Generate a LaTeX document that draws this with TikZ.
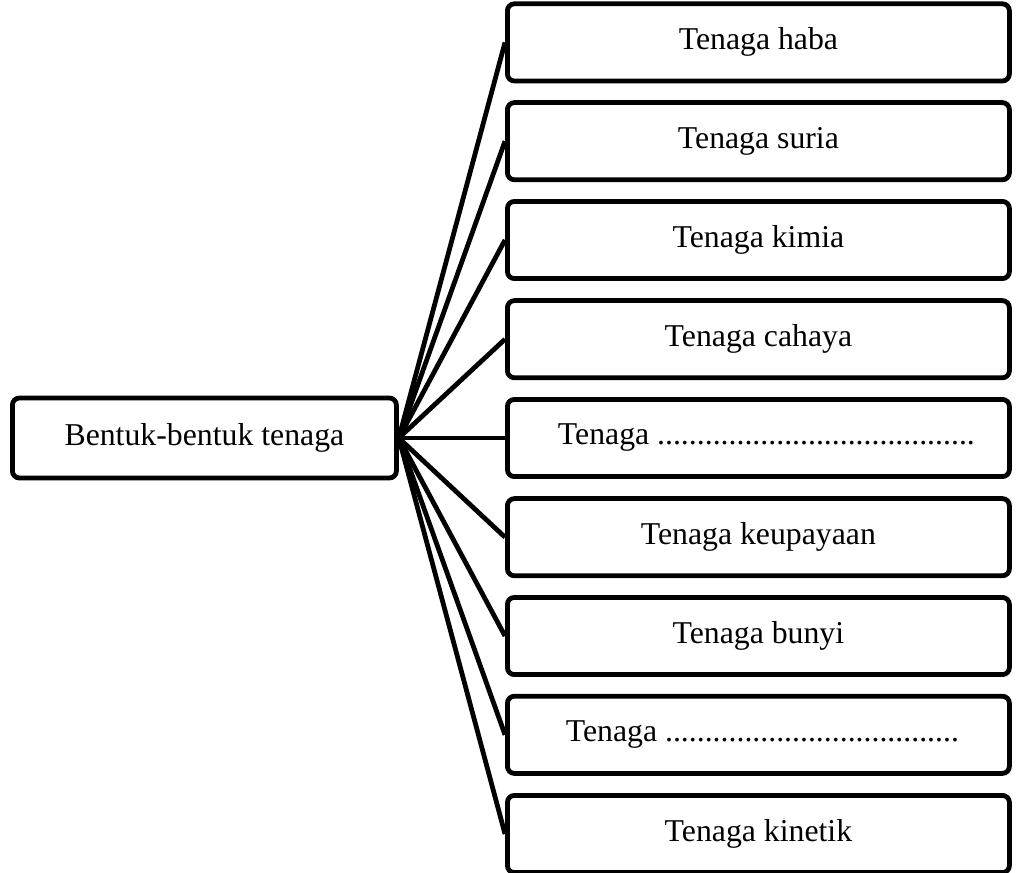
\documentclass[tikz,border=0pt]{standalone}
\usepackage{fontspec}
\setmainfont{Liberation Serif}
\usepackage{tikz}
\usetikzlibrary{positioning}

\tikzset{
  kotak/.style={draw=black, line width=3.4pt, rounded corners=5pt, fill=white,
    font=\fontsize{22.6}{27}\selectfont, minimum height=1.93cm, minimum width=12.55cm, inner sep=0pt},
  garis/.style={draw=black, line width=3.4pt}
}

\begin{document}
\begin{tikzpicture}
  \useasboundingbox (0,0) rectangle (25.775,-21.825);

  % Pusat
  \node[kotak, minimum width=9.6cm, minimum height=2cm] (bentuk) at (5.11,-10.95) {Bentuk-bentuk tenaga};

  % Jenis tenaga
  \node[kotak] (haba) at (18.96,-1.06) {Tenaga haba};
  \node[kotak] (suria) at (18.96,-3.53) {Tenaga suria};
  \node[kotak] (kimia) at (18.96,-6.00) {Tenaga kimia};
  \node[kotak] (cahaya) at (18.96,-8.48) {Tenaga cahaya};
  \node[kotak] (kosong1) at (18.96,-10.95) {\hspace{0.4cm}Tenaga ........................................};
  \node[kotak] (upaya) at (18.96,-13.43) {Tenaga keupayaan};
  \node[kotak] (bunyi) at (18.96,-15.90) {Tenaga bunyi};
  \node[kotak] (kosong2) at (18.96,-18.37) {\hspace{0.2cm}Tenaga .....................................};
  \node[kotak] (kinetik) at (18.96,-20.85) {Tenaga kinetik};

  % Garis penghubung
  \draw[garis] (bentuk.east) -- (haba.west);
  \draw[garis] (bentuk.east) -- (suria.west);
  \draw[garis] (bentuk.east) -- (kimia.west);
  \draw[garis] (bentuk.east) -- (cahaya.west);
  \draw[garis] (bentuk.east) -- (kosong1.west);
  \draw[garis] (bentuk.east) -- (upaya.west);
  \draw[garis] (bentuk.east) -- (bunyi.west);
  \draw[garis] (bentuk.east) -- (kosong2.west);
  \draw[garis] (bentuk.east) -- (kinetik.west);
\end{tikzpicture}
\end{document}
